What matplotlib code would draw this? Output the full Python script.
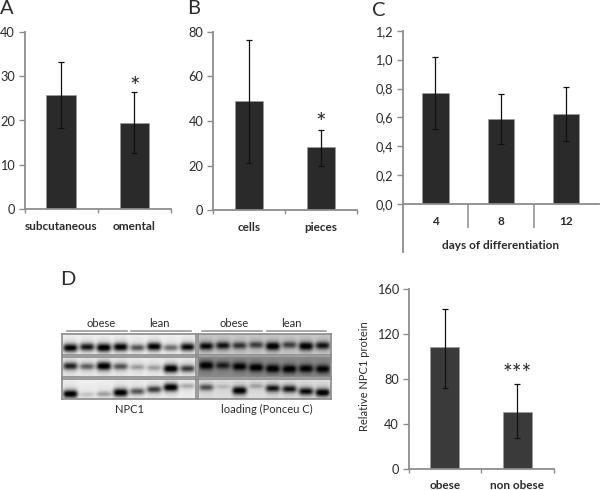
import numpy as np
import matplotlib
matplotlib.use('Agg')
import matplotlib.pyplot as plt

plt.rcParams['font.family'] = ['Lato', 'DejaVu Sans']

W, H = 600, 490
AXIS_GREY = '#8c8c8c'
TEXT = '#2a2a2a'

# panel A
a_labels = ['subcutaneous', 'omental']
a_values = [25.8, 19.5]
a_low = [18.3, 12.6]
a_high = [33.2, 26.4]
a_ticks = [0, 10, 20, 30, 40]

# panel B
b_labels = ['cells', 'pieces']
b_values = [49, 28.2]
b_low = [21, 20]
b_high = [76.5, 36]
b_ticks = [0, 20, 40, 60, 80]

# panel C
c_labels = ['4', '8', '12']
c_values = [0.77, 0.59, 0.625]
c_low = [0.52, 0.415, 0.44]
c_high = [1.015, 0.765, 0.81]
c_ticks = [0.0, 0.2, 0.4, 0.6, 0.8, 1.0, 1.2]
c_ticklabels = ['0,0', '0,2', '0,4', '0,6', '0,8', '1,0', '1,2']

# panel D chart
d_labels = ['obese', 'non obese']
d_values = [108, 50.5]
d_low = [72, 27]
d_high = [142, 75]
d_ticks = [0, 40, 80, 120, 160]

# blots: band darkness per lane (0-1), one row per membrane strip
npc1_dark = [[0.95, 0.85, 1.0, 0.95, 0.6, 0.95, 0.5, 0.9],
             [0.8, 0.55, 1.0, 0.6, 0.3, 0.3, 1.0, 0.7],
             [1.0, 0.15, 0.3, 1.0, 0.6, 0.7, 1.0, 0.25]]
npc1_pos = [[0.66, 0.62, 0.65, 0.62, 0.65, 0.6, 0.65, 0.62],
            [0.48, 0.5, 0.48, 0.5, 0.53, 0.56, 0.6, 0.6],
            [0.75, 0.78, 0.75, 0.68, 0.62, 0.52, 0.42, 0.35]]
ponceau_dark = [[0.9, 0.85, 0.7, 0.65, 1.0, 0.65, 1.0, 0.85],
                [1.0, 0.75, 0.95, 1.0, 1.0, 1.0, 0.95, 0.95],
                [0.6, 0.15, 1.0, 0.25, 0.85, 0.85, 0.9, 1.0]]
ponceau_pos = [[0.58, 0.55, 0.55, 0.52, 0.58, 0.52, 0.58, 0.55],
               [0.45, 0.45, 0.5, 0.55, 0.6, 0.62, 0.6, 0.62],
               [0.42, 0.38, 0.58, 0.35, 0.47, 0.5, 0.62, 0.68]]
npc1_back = [0.95, 0.93, 0.94]
ponceau_back = [0.8, 0.55, 0.88]


fig = plt.figure(figsize=(W / 100, H / 100), dpi=100)


def px_axes(left, top, right, bottom, **kw):
    return fig.add_axes([left / W, 1 - bottom / H, (right - left) / W, (bottom - top) / H], **kw)


def bar_panel(box, labels, values, low, high, ticks, ymax, color, width=0.4, ticklabels=None):
    ax = px_axes(*box)
    ax.patch.set_alpha(0)
    x = np.arange(len(values)) + 0.5
    v = np.array(values)
    err = [v - np.array(low), np.array(high) - v]
    ax.bar(x, v, width, color=color, edgecolor='#9a9a9a', linewidth=0.4, zorder=2)
    ax.errorbar(x, v, yerr=err, fmt='none', ecolor='#111111', elinewidth=0.9,
                capsize=2, capthick=0.9, zorder=3)
    ax.set_xlim(0, len(values))
    ax.set_ylim(0, ymax)
    ax.set_yticks(ticks)
    if ticklabels:
        ax.set_yticklabels(ticklabels)
    ax.set_xticks(np.arange(len(values) + 1))
    ax.set_xticklabels([])
    for s in ['top', 'right']:
        ax.spines[s].set_visible(False)
    for s in ['left', 'bottom']:
        ax.spines[s].set_color(AXIS_GREY)
        ax.spines[s].set_linewidth(1.3)
    ax.tick_params(axis='y', length=4, width=1, color=AXIS_GREY, labelsize=9.2,
                   labelcolor=TEXT, pad=3)
    ax.tick_params(axis='x', length=3, width=1, color=AXIS_GREY)
    return ax, x


def cat_labels(ax, x, labels, offset, size=8.5):
    for xi, lab in zip(x, labels):
        ax.annotate(lab, (xi, 0), xytext=(0, -offset), textcoords='offset pixels',
                    ha='center', va='center', fontsize=size, fontweight='bold', color=TEXT)


ax_a, xa = bar_panel((24.5, 31.7, 171, 209.3), a_labels, a_values, a_low, a_high, a_ticks, 40, '#2a2a2a')
cat_labels(ax_a, xa, a_labels, 17.5)
ax_a.text(xa[1], 27.4, '*', ha='center', va='center', fontsize=18, color=TEXT)

ax_b, xb = bar_panel((213, 31.7, 357, 210.3), b_labels, b_values, b_low, b_high, b_ticks, 80, '#2a2a2a')
cat_labels(ax_b, xb, b_labels, 17.5)
ax_b.text(xb[1], 39, '*', ha='center', va='center', fontsize=18, color=TEXT)

ax_c, xc = bar_panel((402.7, 30.7, 599, 204.3), c_labels, c_values, c_low, c_high, c_ticks, 1.2,
                     '#2a2a2a', ticklabels=c_ticklabels)
ax_c.set_xticks([1, 2])
ax_c.tick_params(axis='x', length=17.5, width=1.1)
cat_labels(ax_c, xc, c_labels, 17)
ax_c.plot([0, 0], [0, -48 / 173.6 * 1.2], color=AXIS_GREY, lw=1.3, clip_on=False)
ax_c.annotate('days of differentiation', (1.5, 0), xytext=(0, -41), textcoords='offset pixels',
              ha='center', va='center', fontsize=8.5, fontweight='bold', color=TEXT)

ax_d, xd = bar_panel((408.7, 289, 553.7, 468.7), d_labels, d_values, d_low, d_high, d_ticks, 160, '#3a3a3a')
cat_labels(ax_d, xd, d_labels, 17)
ax_d.text(xd[1], 85, '***', ha='center', va='center', fontsize=16.5, color=TEXT)


def blot(box, dark, pos, back):
    # one strip of the western blot, built from lane band strengths
    ax = px_axes(*box)
    h, w = 21, 133
    yy, xx = np.mgrid[0:h, 0:w]
    xn = (xx + 0.5) / w
    yn = (yy + 0.5) / h
    img = np.full((h, w), back, dtype=float)
    n = len(dark)
    for i in range(n):
        cx = (i + 0.5) / n
        across = np.exp(-((xn - cx) / (0.44 / n)) ** 4)
        # smear in the lane, fading away from the band
        smear = np.exp(-((yn - pos[i]) / 0.45) ** 2)
        img -= 0.12 * (0.3 + dark[i]) * across * smear * back
        sigma = 0.10 + 0.09 * dark[i]
        band = np.exp(-((yn - pos[i]) / sigma) ** 2)
        img -= dark[i] * across * band * back * 0.95
    ax.imshow(np.clip(img, 0, 1), cmap='gray', vmin=0, vmax=1, aspect='auto', interpolation='bicubic')
    ax.set_xticks([])
    ax.set_yticks([])
    for s in ax.spines.values():
        s.set_color('#8a8a8a')
        s.set_linewidth(1.2)


rows_y = [(334, 355), (357, 377.3), (379.3, 399.3)]
for r, (t, b) in enumerate(rows_y):
    blot((62.3, t, 195.7, b), npc1_dark[r], npc1_pos[r], npc1_back[r])
    blot((198.3, t, 330.7, b), ponceau_dark[r], ponceau_pos[r], ponceau_back[r])

# overlay in pixel coordinates for the panel letters and blot annotation
ov = fig.add_axes([0, 0, 1, 1])
ov.set_xlim(0, W)
ov.set_ylim(H, 0)
ov.axis('off')
ov.patch.set_alpha(0)

for letter, lx, ly in [('A', 7, 8), ('B', 194, 8), ('C', 379, 10), ('D', 68, 279)]:
    ov.text(lx, ly, letter, fontsize=14.5, ha='center', va='center', color=TEXT)

for x0, x1 in [(66.7, 127), (131, 191), (202, 262.3), (266.7, 326.3)]:
    ov.plot([x0, x1], [331.3, 331.3], color='#9a9a9a', lw=1.2)

for lab, tx in [('obese', 101), ('lean', 159), ('obese', 234), ('lean', 291.7)]:
    ov.text(tx, 323, lab, fontsize=8, ha='center', va='center', color=TEXT)
ov.text(130, 409, 'NPC1', fontsize=8, ha='center', va='center', color=TEXT)
ov.text(267, 409, 'loading (Ponceu C)', fontsize=8, ha='center', va='center', color=TEXT)
ov.text(364, 376.5, 'Relative NPC1 protein', fontsize=8, rotation=90, ha='center', va='center', color=TEXT)

fig.savefig('out.png', dpi=100)
